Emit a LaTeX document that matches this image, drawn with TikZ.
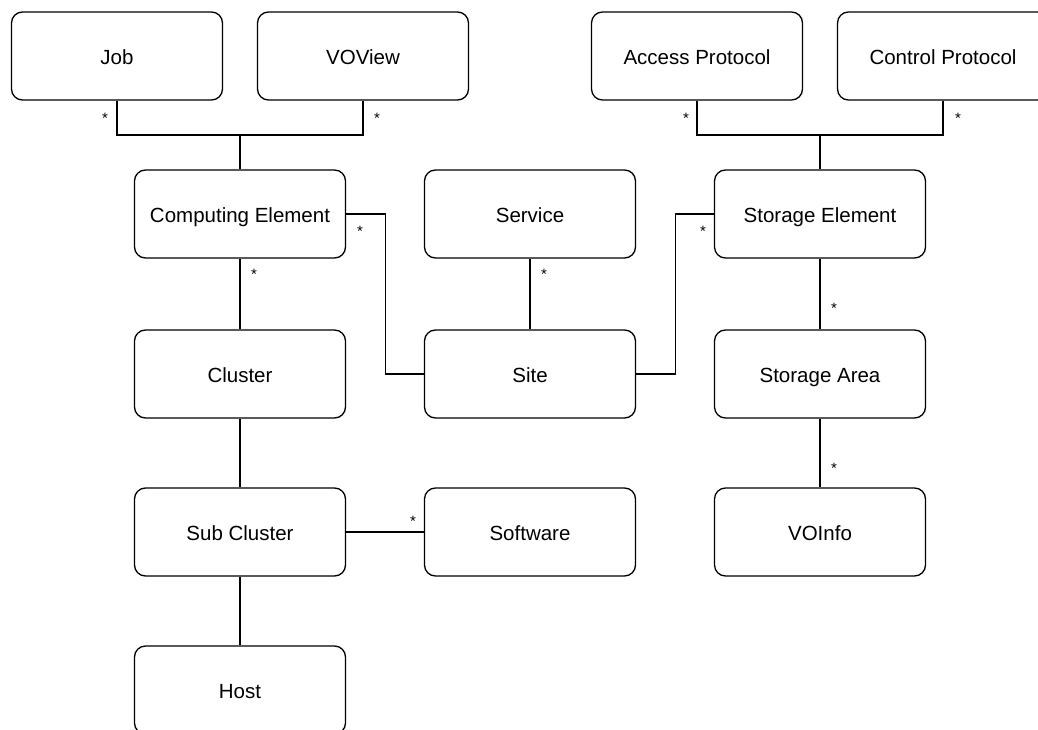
\documentclass[tikz,border=0pt]{standalone}
\usepackage{fontspec}
\setmainfont{Liberation Sans}
\begin{document}
\begin{tikzpicture}[x=1pt,y=-1pt,
  entity/.style={draw, line width=1.3pt, rounded corners=11pt,
    minimum width=211pt, minimum height=88pt, inner sep=0pt,
    text height=20.5pt, text depth=4pt,
    font=\fontsize{20.5}{24}\selectfont},
  link/.style={line width=1.3pt},
  mult/.style={font=\fontsize{15}{17}\selectfont, inner sep=0pt}]
\useasboundingbox (0,0) rectangle (1038,730);
\clip (0,0) rectangle (1038,730);

% top row
\node[entity] (job)     at (117,56)  {Job};
\node[entity] (voview)  at (363,56)  {VOView};
\node[entity] (access)  at (697,56)  {Access Protocol};
\node[entity] (control) at (943,56)  {Control Protocol};

% computing side
\node[entity] (ce)      at (240,214) {Computing Element};
\node[entity] (cluster) at (240,374) {Cluster};
\node[entity] (sub)     at (240,532) {Sub Cluster};
\node[entity] (host)    at (240,690) {Host};

% middle column
\node[entity] (service)  at (530,214) {Service};
\node[entity] (site)     at (530,374) {Site};
\node[entity] (software) at (530,532) {Software};

% storage side
\node[entity] (se)     at (820,214) {Storage Element};
\node[entity] (sa)     at (820,374) {Storage Area};
\node[entity] (voinfo) at (820,532) {VOInfo};

% junctions
\coordinate (jl) at (240,135);
\coordinate (jr) at (820,135);

% connectors
\draw[link] (job.south) |- (jl) -| (voview.south);
\draw[link] (jl) -- (ce.north);
\draw[link] (access.south) |- (jr) -| (control.south);
\draw[link] (jr) -- (se.north);
\draw[link] (ce.east) -- ++(39,0) |- (site.west);
\draw[link] (site.east) -- ++(39,0) |- (se.west);
\draw[link] (service) -- (site);
\draw[link] (ce) -- (cluster);
\draw[link] (cluster) -- (sub);
\draw[link] (sub) -- (host);
\draw[link] (sub) -- (software);
\draw[link] (se) -- (sa);
\draw[link] (sa) -- (voinfo);

% multiplicities
\node[mult] (m1)  at (105,118) {*};
\node[mult] (m2)  at (377,118) {*};
\node[mult] (m3)  at (686,118) {*};
\node[mult] (m4)  at (958,118) {*};
\node[mult] (m5)  at (360,231) {*};
\node[mult] (m6)  at (703,231) {*};
\node[mult] (m7)  at (254,274) {*};
\node[mult] (m8)  at (544,274) {*};
\node[mult] (m9)  at (834,308) {*};
\node[mult] (m10) at (834,468) {*};
\node[mult] (m11) at (413,521) {*};
\end{tikzpicture}
\end{document}
